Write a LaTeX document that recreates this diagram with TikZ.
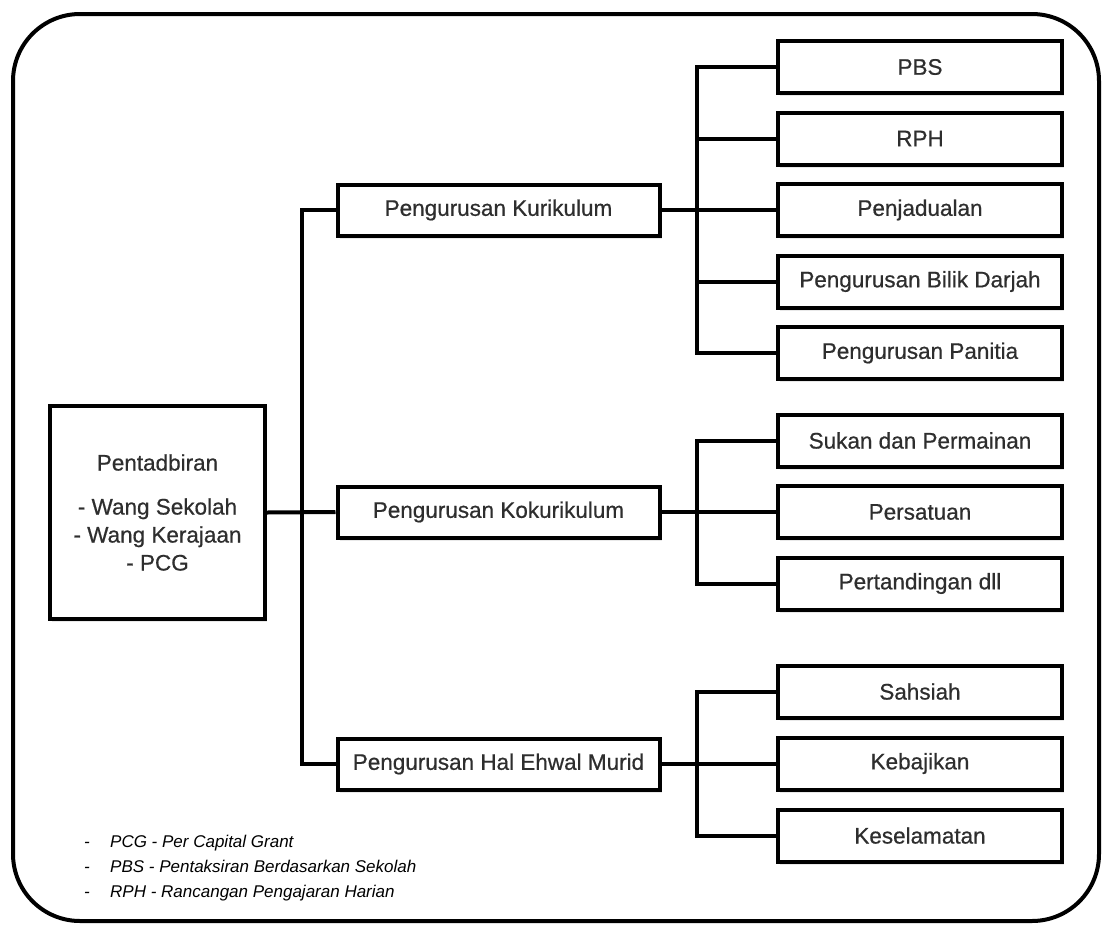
\documentclass[tikz,border=0pt]{standalone}
\usepackage{fontspec}
\setmainfont{Liberation Sans}
\newfontfamily\boxfont[FakeBold=0.6]{Liberation Sans}
\usetikzlibrary{shadows,calc}
\begin{document}
\begin{tikzpicture}[x=1pt,y=-1pt,
  box/.style={draw=black,line width=4pt,fill=white,inner sep=0pt,
    font=\boxfont\fontsize{22.5}{28}\selectfont,text=black!82,
    drop shadow={opacity=0.18,shadow xshift=2pt,shadow yshift=-3pt}},
  midbox/.style={box,minimum width=322pt,minimum height=51pt},
  leafbox/.style={box,minimum width=284pt,minimum height=52pt},
  conn/.style={line width=4pt,line join=miter},
  legend/.style={anchor=base west,inner sep=0pt,font=\fontsize{17}{20}\selectfont\itshape}]
\useasboundingbox (0,0) rectangle (1104,927);
\draw[line width=4pt,rounded corners=67pt] (13,14) rectangle (1099,921);

\node[box,minimum width=215pt,minimum height=213pt,align=center] (root) at (157.5,512.5)
  {Pentadbiran\\[16pt]- Wang Sekolah\\- Wang Kerajaan\\- PCG};

\node[midbox] (kur) at (498.5,210) {Pengurusan Kurikulum};
\node[midbox] (kok) at (498.5,512) {Pengurusan Kokurikulum};
\node[midbox] (hal) at (498.5,764) {Pengurusan Hal Ehwal Murid};

\node[leafbox] (pbs) at (920,67) {PBS};
\node[leafbox] (rph) at (920,138.5) {RPH};
\node[leafbox] (jad) at (920,210) {Penjadualan};
\node[leafbox] (bil) at (920,281.5) {Pengurusan Bilik Darjah};
\node[leafbox] (pan) at (920,353) {Pengurusan Panitia};

\node[leafbox] (suk) at (920,440.5) {Sukan dan Permainan};
\node[leafbox] (per) at (920,512) {Persatuan};
\node[leafbox] (ptd) at (920,583.5) {Pertandingan dll};

\node[leafbox] (sah) at (920,691.5) {Sahsiah};
\node[leafbox] (keb) at (920,763.5) {Kebajikan};
\node[leafbox] (kes) at (920,835.5) {Keselamatan};

\coordinate (tk) at (302,0);
\coordinate (bk) at (697,0);

% trunk
\draw[conn] (root.east) -- (kok.west);
\draw[conn] (kur.west) -- (kur.west -| tk) -- (hal.west -| tk) -- (hal.west);

% kurikulum branch
\draw[conn] (kur.east) -- (kur.east -| bk);
\draw[conn] (pbs.west) -- (pbs.west -| bk) -- (pan.west -| bk) -- (pan.west);
\draw[conn] (rph.west) -- (rph.west -| bk);
\draw[conn] (jad.west) -- (jad.west -| bk);
\draw[conn] (bil.west) -- (bil.west -| bk);

% kokurikulum branch
\draw[conn] (kok.east) -- (kok.east -| bk);
\draw[conn] (suk.west) -- (suk.west -| bk) -- (ptd.west -| bk) -- (ptd.west);
\draw[conn] (per.west) -- (per.west -| bk);

% hal ehwal branch
\draw[conn] (hal.east) -- (hal.east -| bk);
\draw[conn] (sah.west) -- (sah.west -| bk) -- (kes.west -| bk) -- (kes.west);
\draw[conn] (keb.west) -- (keb.west -| bk);

% legend
\node[legend] (d1) at (84,847) {-};
\node[legend] (d2) at (84,872) {-};
\node[legend] (d3) at (84,897) {-};
\node[legend] (l1) at (110,847) {PCG - Per Capital Grant};
\node[legend] (l2) at (110,872) {PBS - Pentaksiran Berdasarkan Sekolah};
\node[legend] (l3) at (110,897) {RPH - Rancangan Pengajaran Harian};
\end{tikzpicture}
\end{document}
